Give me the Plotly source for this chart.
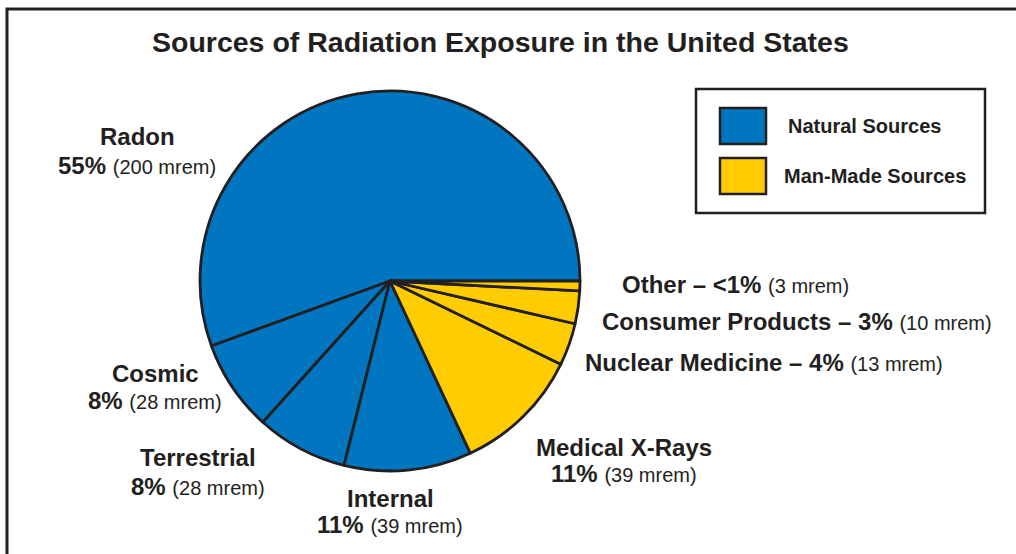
import plotly.graph_objects as go

# ---- data ----
sources = ["Radon", "Cosmic", "Terrestrial", "Internal", "Medical X-Rays",
           "Nuclear Medicine", "Consumer Products", "Other"]
mrem = [200, 28, 28, 39, 39, 13, 10, 3]
pct_labels = ["55%", "8%", "8%", "11%", "11%", "4%", "3%", "<1%"]
category = ["Natural", "Natural", "Natural", "Natural",
            "Man-Made", "Man-Made", "Man-Made", "Man-Made"]
legend_names = ["Natural Sources", "Man-Made Sources"]

W, H = 1016, 554
BLUE = "#0076C0"
YELLOW = "#FFCC00"
INK = "#231F20"
FONT = "Liberation Sans, Arial, sans-serif"
cat_color = {"Natural": BLUE, "Man-Made": YELLOW}

def px(x):
    return x / W

def py(y):
    return 1 - y / H

# pie geometry (pixels)
cx, cy, r = 390, 281, 190

# first slice should begin at 3 o'clock and run counterclockwise
# (plotly's rotation marks where the first slice ends in ccw mode)
rotation = 90 - 360 * mrem[0] / sum(mrem)

fig = go.Figure(go.Pie(
    labels=sources,
    values=mrem,
    sort=False,
    direction="counterclockwise",
    rotation=rotation,
    marker=dict(colors=[cat_color[c] for c in category],
                line=dict(color=INK, width=2.8)),
    textinfo="none",
    hoverinfo="label+value",
    showlegend=False,
    domain=dict(x=[px(cx - r), px(cx + r)], y=[py(cy + r), py(cy - r)]),
))

annotations = []

def add_text(x, y, text, size, xanchor="center"):
    annotations.append(dict(
        x=px(x), y=py(y), xref="paper", yref="paper",
        text=text, showarrow=False, xanchor=xanchor, yanchor="middle",
        font=dict(family=FONT, size=size, color=INK),
    ))

# title
add_text(500, 42, "<b>Sources of Radiation Exposure in the United States</b>", 28.5)

def val_text(i):
    return f"<b>{pct_labels[i]}</b> <span style='font-size:20px'>({mrem[i]} mrem)</span>"

# two-line labels: (index, x center, name y, value y)
two_line = [(0, 137, 137, 165), (1, 155, 373, 400), (2, 198, 457, 487),
            (3, 390, 498, 524), (4, 624, 447, 474)]
for i, x, y1, y2 in two_line:
    add_text(x, y1, f"<b>{sources[i]}</b>", 24)
    add_text(x, y2, val_text(i), 24)

# one-line labels: (index, left x, y)
one_line = [(7, 620, 284), (6, 600, 321), (5, 583, 362)]
for i, x, y in one_line:
    add_text(x, y, f"<b>{sources[i]} \u2013 {pct_labels[i]}</b> "
                   f"<span style='font-size:20px'>({mrem[i]} mrem)</span>", 24,
             xanchor="left")

shapes = []
# outer frame
shapes.append(dict(type="rect", xref="paper", yref="paper",
                   x0=px(7), x1=px(1040), y0=py(600), y1=py(9),
                   line=dict(color=INK, width=3), fillcolor="rgba(0,0,0,0)"))
# legend box
shapes.append(dict(type="rect", xref="paper", yref="paper",
                   x0=px(696), x1=px(985), y0=py(213), y1=py(89),
                   line=dict(color=INK, width=2.5), fillcolor="white"))
legend_rows = [(legend_names[0], BLUE, 108, 144, 786),
               (legend_names[1], YELLOW, 158, 194, 782)]
for name, col, y0, y1, tx in legend_rows:
    shapes.append(dict(type="rect", xref="paper", yref="paper",
                       x0=px(720), x1=px(766), y0=py(y1), y1=py(y0),
                       line=dict(color=INK, width=2.5), fillcolor=col))
    add_text(tx, (y0 + y1) / 2, f"<b>{name}</b>", 20, xanchor="left")

fig.update_layout(
    width=W, height=H,
    margin=dict(l=0, r=0, t=0, b=0),
    paper_bgcolor="white",
    plot_bgcolor="white",
    annotations=annotations,
    shapes=shapes,
)

fig.write_html("out.html",
               config={"displayModeBar": False},
               post_script="document.body.style.margin='0';")
